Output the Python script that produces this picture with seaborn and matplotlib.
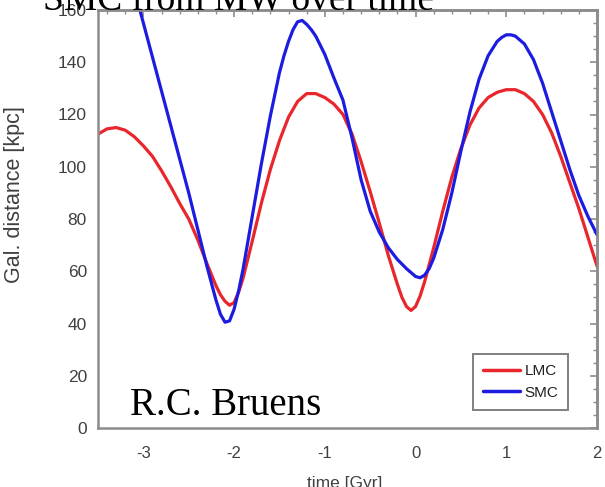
import matplotlib
matplotlib.use("Agg")
import matplotlib.pyplot as plt
import numpy as np
import pandas as pd
import seaborn as sns
from matplotlib.ticker import MultipleLocator

# ---- data ----
t_lmc = [-3.5, -3.4, -3.3, -3.2, -3.1, -3.0, -2.9, -2.8, -2.7, -2.6, -2.5, -2.4,
         -2.3, -2.2, -2.15, -2.1, -2.05, -2.0, -1.95, -1.9, -1.8, -1.7, -1.6, -1.5,
         -1.4, -1.3, -1.2, -1.1, -1.0, -0.9, -0.8, -0.7, -0.6, -0.5, -0.4, -0.3,
         -0.2, -0.15, -0.1, -0.05, 0.0, 0.05, 0.1, 0.2, 0.3, 0.4, 0.5, 0.6, 0.7,
         0.8, 0.9, 1.0, 1.1, 1.2, 1.3, 1.4, 1.5, 1.6, 1.7, 1.8, 1.9, 2.0]
d_lmc = [112.5, 114.5, 115, 114, 111.5, 108, 104, 98.5, 92.5, 86, 80, 72,
         63, 54.5, 51, 48.5, 47, 48, 52, 57.5, 71.5, 86, 99, 110,
         119, 125, 128, 128, 126.5, 124, 120, 112.5, 102, 90.5, 78.5, 66,
         55, 50, 46.5, 45, 46.5, 50.5, 56, 69, 83, 96, 107, 116, 122.5,
         126.5, 128.5, 129.5, 129.5, 128, 125, 120, 113, 104, 94, 84, 73, 62]

t_smc = [-3.2, -3.1, -3.0, -2.9, -2.8, -2.7, -2.6, -2.5, -2.4, -2.3, -2.25, -2.2,
         -2.15, -2.1, -2.05, -2.0, -1.95, -1.9, -1.8, -1.7, -1.6, -1.5, -1.45, -1.4,
         -1.35, -1.3, -1.25, -1.2, -1.15, -1.1, -1.0, -0.9, -0.8, -0.7, -0.6, -0.5,
         -0.4, -0.3, -0.2, -0.1, 0.0, 0.05, 0.1, 0.15, 0.2, 0.3, 0.4, 0.5, 0.6,
         0.7, 0.8, 0.9, 0.95, 1.0, 1.05, 1.1, 1.2, 1.3, 1.4, 1.5, 1.6, 1.7, 1.8,
         1.9, 2.0]
d_smc = [181, 168, 155, 142, 129, 116, 103, 90, 76, 62, 55.5, 49,
         43.5, 40.5, 41, 45.5, 52.5, 61, 81, 101, 119.5, 136, 142.5, 148,
         152.5, 155.5, 156, 154.5, 152.5, 150, 143, 134, 125.5, 111, 95, 83,
         75, 69, 64.5, 61, 58, 57.5, 58.5, 61, 65, 76, 90, 106, 121,
         133.5, 142.5, 148, 149.5, 150.5, 150.5, 150, 147, 141, 132, 121, 110, 99, 89,
         81, 74]

series_names = ["LMC", "SMC"]
x_ticks = [-3, -2, -1, 0, 1, 2]
y_ticks = [0, 20, 40, 60, 80, 100, 120, 140, 160]

df = pd.concat([
    pd.DataFrame({"time": t_lmc, "dist": d_lmc, "galaxy": "LMC"}),
    pd.DataFrame({"time": t_smc, "dist": d_smc, "galaxy": "SMC"}),
], ignore_index=True)

sns.set_style("white")
plt.rcParams["font.family"] = ["Liberation Sans", "DejaVu Sans"]

W, H = 605, 487
fig = plt.figure(figsize=(W / 100, H / 100), dpi=100)
L, R, B, T = 98, 597, 428, 10
ax = fig.add_axes([L / W, 1 - B / H, (R - L) / W, (B - T) / H])

palette = {"LMC": "#e8262b", "SMC": "#1c1ce0"}
sns.lineplot(data=df, x="time", y="dist", hue="galaxy", hue_order=series_names,
             palette=palette, linewidth=2.3, ax=ax, sort=False, estimator=None)
for ln in ax.get_lines():
    ln.set_solid_joinstyle("round")

ax.set_xlim(-3.5, 2.0)
ax.set_ylim(0, 160)
ax.set_xticks(x_ticks)
ax.set_xticklabels([str(v) for v in x_ticks])
ax.set_yticks(y_ticks)
ax.xaxis.set_minor_locator(MultipleLocator(0.2))
ax.yaxis.set_minor_locator(MultipleLocator(5))

spine_col = "#8c8c8c"
for s in ax.spines.values():
    s.set_color(spine_col)
    s.set_linewidth(1.8)

lab_col = "#404040"
ax.tick_params(axis="both", which="major", direction="out", length=5, width=1.2,
               color=spine_col, labelcolor=lab_col)
ax.tick_params(axis="both", which="minor", direction="out", length=3, width=1.0,
               color=spine_col)
ax.tick_params(axis="y", which="major", labelsize=12.5, pad=3)
ax.tick_params(axis="x", which="major", labelsize=12, pad=8)

# inward ticks on top and right
topax = ax.secondary_xaxis("top")
topax.set_xticks(x_ticks)
topax.xaxis.set_minor_locator(MultipleLocator(0.2))
topax.tick_params(which="major", direction="in", length=5, width=1.2, color=spine_col,
                  labeltop=False)
topax.tick_params(which="minor", direction="in", length=3, width=1.0, color=spine_col)
topax.spines["top"].set_color(spine_col)
topax.spines["top"].set_linewidth(1.8)
rightax = ax.secondary_yaxis("right")
rightax.set_yticks(y_ticks)
rightax.yaxis.set_minor_locator(MultipleLocator(5))
rightax.tick_params(which="major", direction="in", length=5, width=1.2, color=spine_col,
                    labelright=False)
rightax.tick_params(which="minor", direction="in", length=3, width=1.0, color=spine_col)
rightax.spines["right"].set_color(spine_col)
rightax.spines["right"].set_linewidth(1.8)

ax.set_xlabel("")
ax.set_ylabel("")
fig.text(15 / W, 1 - 195 / H, "Gal. distance [kpc]", rotation=90, ha="center",
         va="center", fontsize=15.5, color=lab_col)
fig.text(345 / W, 1 - 476 / H, "time [Gyr]", ha="center", va="top",
         fontsize=12.5, color=lab_col)

leg = ax.legend(loc="upper right", bbox_to_anchor=(0.942, 0.177), fontsize=11,
                frameon=True, fancybox=False, handlelength=2.4, handletextpad=0.3,
                borderpad=0.65, labelspacing=0.5, borderaxespad=0)
leg.get_frame().set_edgecolor("#606060")
leg.get_frame().set_linewidth(1.4)
for h in leg.get_lines():
    h.set_linewidth(2.5)
for txt in leg.get_texts():
    txt.set_color("#202020")

fig.text(43 / W, 1 - 9 / H, "SMC from MW over time", ha="left", va="baseline",
         fontsize=27, family="Liberation Serif", color="black", zorder=10)
fig.text(130 / W, 1 - 415 / H, "R.C. Bruens", ha="left", va="baseline",
         fontsize=28, family="Liberation Serif", color="black", zorder=10)

fig.savefig("out.png", dpi=100, facecolor="white")
